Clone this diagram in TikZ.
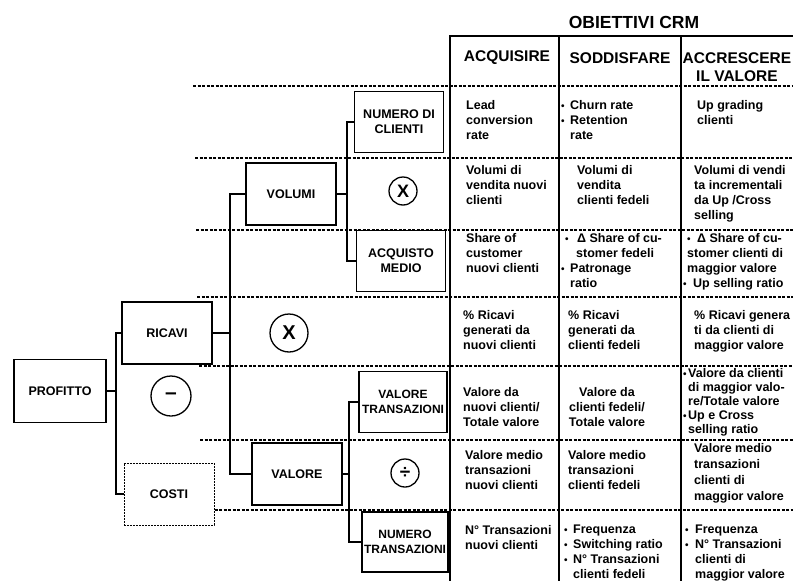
\documentclass[tikz,border=0pt]{standalone}
\usepackage{fontspec}
\setmainfont{Liberation Sans}
\usepackage{tikz}
\usetikzlibrary{positioning}

\newcommand\bul[1][9pt]{\makebox[#1][l]{\fontsize{10}{10}\selectfont\textbullet}}
\newcommand\ind[1][9pt]{\hspace*{#1}}

\begin{document}
\begin{tikzpicture}[x=1pt, y=-1pt,
    box/.style={draw, line width=1.3pt, minimum width=90pt, minimum height=62pt, inner sep=0pt,
      align=center, font=\bfseries\fontsize{12.5}{15}\selectfont},
    cell/.style={anchor=north west, inner sep=0pt, align=left, font=\bfseries\fontsize{12.5}{15}\selectfont},
    head/.style={inner sep=0pt, align=center, font=\bfseries\fontsize{15.5}{18}\selectfont},
    op/.style={draw, circle, line width=1.3pt, inner sep=0pt, font=\bfseries\fontsize{20}{20}\selectfont},
    link/.style={line width=1.2pt},
    sep/.style={line width=1.3pt, dash pattern=on 3pt off 1.5pt}]
  \useasboundingbox (0,0) rectangle (793,581);

  \node[box, minimum width=92pt, minimum height=63pt] (profitto) at (60,391) {PROFITTO};
  \node[box] (ricavi) at (167,333) {RICAVI};
  \node[box, line width=1pt, dash pattern=on 2pt off 1pt] (costi) at (169,494) {COSTI};
  \node[box] (volumi) at (291,194) {VOLUMI};
  \node[box] (valore) at (297,474) {VALORE};
  \node[box, minimum width=89pt, minimum height=61pt] (nclienti) at (399,122) {NUMERO DI\\CLIENTI};
  \node[box, minimum width=89pt, minimum height=61pt] (acquisto) at (401,261) {ACQUISTO\\MEDIO};
  \node[box, minimum width=88pt, minimum height=61pt, font=\bfseries\fontsize{12}{15}\selectfont] (valtrans) at (403,402) {VALORE\\TRANSAZIONI};
  \node[box, minimum width=86pt, minimum height=60pt, font=\bfseries\fontsize{12}{15}\selectfont] (ntrans) at (405,542) {NUMERO\\TRANSAZIONI};

  \node[op, minimum size=28pt, font=\bfseries\fontsize{18}{18}\selectfont] (perv) at (403,191) {X};
  \node[op, minimum size=38pt] (perr) at (289,333) {X};
  \node[op, minimum size=40pt, font=\bfseries\fontsize{21}{21}\selectfont] (meno) at (171,396) {–};
  \node[op, minimum size=28pt, font=\bfseries\fontsize{19}{19}\selectfont] (diviso) at (405,473) {÷};

  \coordinate (j1) at (116,391);
  \coordinate (j2) at (230,333);
  \coordinate (j3) at (347,194);
  \coordinate (j4) at (349,474);
  \draw[link] (profitto.east) -- (j1);
  \draw[link] (ricavi.west) -| (j1) |- (costi.west);
  \draw[link] (ricavi.east) -- (j2);
  \draw[link] (volumi.west) -| (j2) |- (valore.west);
  \draw[link] (volumi.east) -- (j3);
  \draw[link] (nclienti.west) -| (j3) |- (acquisto.west);
  \draw[link] (valore.east) -- (j4);
  \draw[link] (valtrans.west) -| (j4) |- (ntrans.west);

  \draw[link] (450,581) |- (793,36);
  \foreach \x in {559,681}
    \draw[link] (\x,36) -- (\x,581);
  \foreach \y/\x in {86/193, 158/195, 230/196, 297/197, 366/199, 440/200}
    \draw[sep] (\x,\y) -- (793,\y);
  \coordinate (r7) at (0,510);
  \draw[sep] (costi.east |- r7) -- (793,510);

  \node[head, font=\bfseries\fontsize{17.5}{20}\selectfont] (titolo) at (634,22) {OBIETTIVI CRM};
  \node[head] (acq) at (507,58) {ACQUISIRE};
  \node[head] (sod) at (620,58) {SODDISFARE};
  \node[head] (acc) at (737,67) {ACCRESCERE\\IL VALORE};

  \node[cell] (a1) at (466,100) {Lead\\conversion\\rate};
  \node[cell] (s1) at (561,100) {\bul Churn rate\\\bul Retention\\\ind rate};
  \node[cell] (c1) at (697,100) {Up grading\\clienti};

  \node[cell] (a2) at (466,165) {Volumi di\\vendita nuovi\\clienti};
  \node[cell] (s2) at (577,165) {Volumi di\\vendita\\clienti fedeli};
  \node[cell] (c2) at (694,165) {Volumi di vendi\\ta incrementali\\da Up /Cross\\selling};

  \node[cell] (a3) at (466,233) {Share of\\customer\\nuovi clienti};
  \node[cell] (s3) at (561,233) {\ind[4pt]\bul[12pt]Δ Share of cu-\\\ind[15pt]stomer fedeli\\\bul Patronage\\\ind ratio};
  \node[cell] (c3) at (683,233) {\ind[4pt]\bul[10pt]Δ Share of cu-\\\ind[4pt]stomer clienti di\\\ind[4pt]maggior valore\\\bul[10pt]Up selling ratio};

  \node[cell] (a4) at (463,310) {\% Ricavi\\generati da\\nuovi clienti};
  \node[cell] (s4) at (568,310) {\% Ricavi\\generati da\\clienti fedeli};
  \node[cell] (c4) at (694,310) {\% Ricavi genera\\ti da clienti di\\maggior valore};

  \node[cell] (a5) at (463,387) {Valore da\\nuovi clienti/\\Totale valore};
  \node[cell, anchor=north, align=center] (s5) at (607,387) {Valore da\\clienti fedeli/\\Totale valore};
  \node[cell, font=\bfseries\fontsize{12.5}{14}\selectfont] (c5) at (683,368) {\bul[5pt]Valore da clienti\\\ind[5pt]di maggior valo-\\\ind[5pt]re/Totale valore\\\bul[5pt]Up e Cross\\\ind[5pt]selling ratio};

  \node[cell] (a6) at (465,450) {Valore medio\\transazioni\\nuovi clienti};
  \node[cell] (s6) at (568,450) {Valore medio\\transazioni\\clienti fedeli};
  \node[cell, font=\bfseries\fontsize{12.5}{16}\selectfont] (c6) at (694,443) {Valore medio\\transazioni\\clienti di\\maggior valore};

  \node[cell] (a7) at (465,525) {N° Transazioni\\nuovi clienti};
  \node[cell] (s7) at (564,525) {\bul Frequenza\\\bul Switching ratio\\\bul N° Transazioni\\\ind clienti fedeli};
  \node[cell] (c7) at (685,525) {\bul[10pt]Frequenza\\\bul[10pt]N° Transazioni\\\ind[10pt]clienti di\\\ind[10pt]maggior valore};
\end{tikzpicture}
\end{document}
